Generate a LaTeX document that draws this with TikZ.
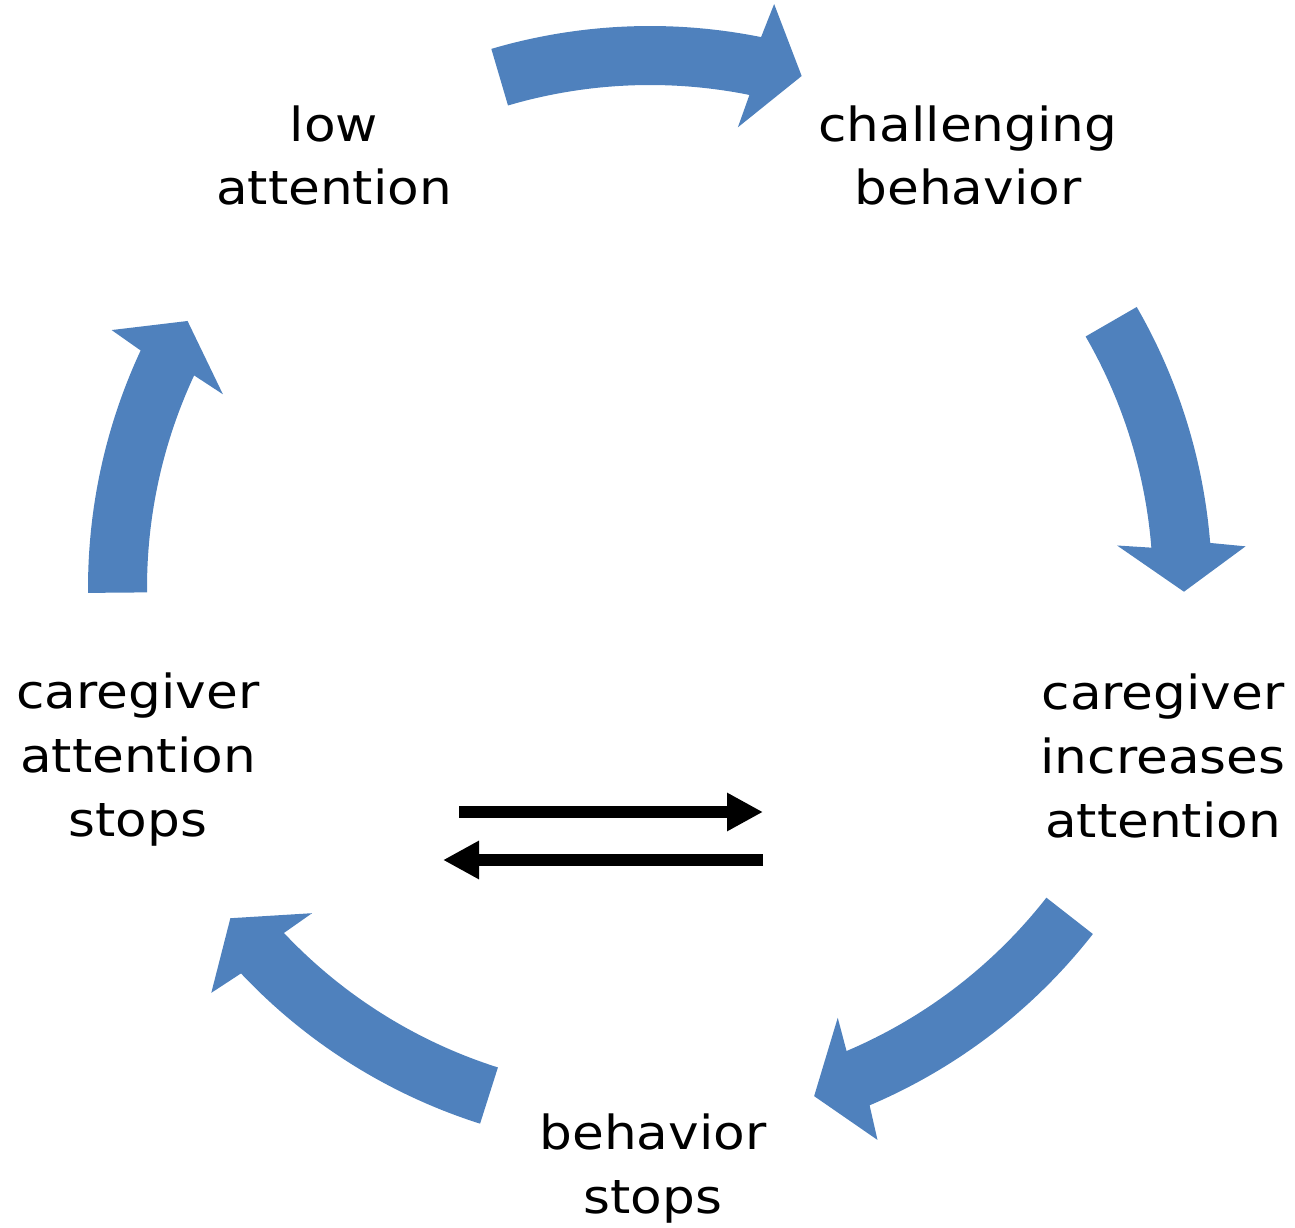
\documentclass[tikz,border=0pt]{standalone}
\usepackage{fontspec}
\newfontfamily\labelfont{DejaVu Sans}[FakeStretch=1.10]
\usetikzlibrary{arrows.meta}
\definecolor{cycleblue}{HTML}{4F81BD}

% curved block arrow on the cycle: tail angle, head-base angle, tip angle
\newcommand\cyclearrow[3]{%
  \fill[cyclearrowfill] (#1:562) arc[start angle=#1, end angle=#2, radius=562]
    -- ({#2-0.6}:597) -- (#3:534) -- ({#2+0.6}:469) -- (#2:503)
    arc[start angle=#2, end angle=#1, radius=503] -- cycle;}

\begin{document}
\begin{tikzpicture}[x=1pt, y=1pt,
  cyclearrowfill/.style={fill=cycleblue},
  steplabel/.style={font=\labelfont\fontsize{47}{63.5}\selectfont, align=center, inner sep=0pt, anchor=base},
  swaparrow/.style={line width=12pt, -{Triangle[length=36pt,width=36pt]}}]
\useasboundingbox (0,0) rectangle (1295,1227);

% cycle of curved arrows around the centre
\begin{scope}[shift={(650,639)}]
  \cyclearrow{106.4}{78.6}{73.5}
  \cyclearrow{30.0}{4.6}{-0.4}
  \cyclearrow{-38.0}{-67.0}{-72.1}
  \cyclearrow{-107.6}{-136.7}{-141.8}
  \cyclearrow{180.5}{155.0}{150.0}
\end{scope}

% stages of the cycle (anchored at the baseline of the last line)
\node[steplabel] (low) at (334,1022) {low\\attention};
\node[steplabel] (challenge) at (968,1022) {challenging\\behavior};
\node[steplabel] (increase) at (1163,390) {caregiver\\increases\\attention};
\node[steplabel] (stops) at (653,14) {behavior\\stops};
\node[steplabel] (attstops) at (138,391) {caregiver\\attention\\stops};

% exchange arrows in the middle
\coordinate (ra) at (459,415);
\coordinate (rb) at (763,415);
\coordinate (la) at (763,367);
\coordinate (lb) at (443,367);
\draw[swaparrow] (ra) -- (rb);
\draw[swaparrow] (la) -- (lb);
\end{tikzpicture}
\end{document}
